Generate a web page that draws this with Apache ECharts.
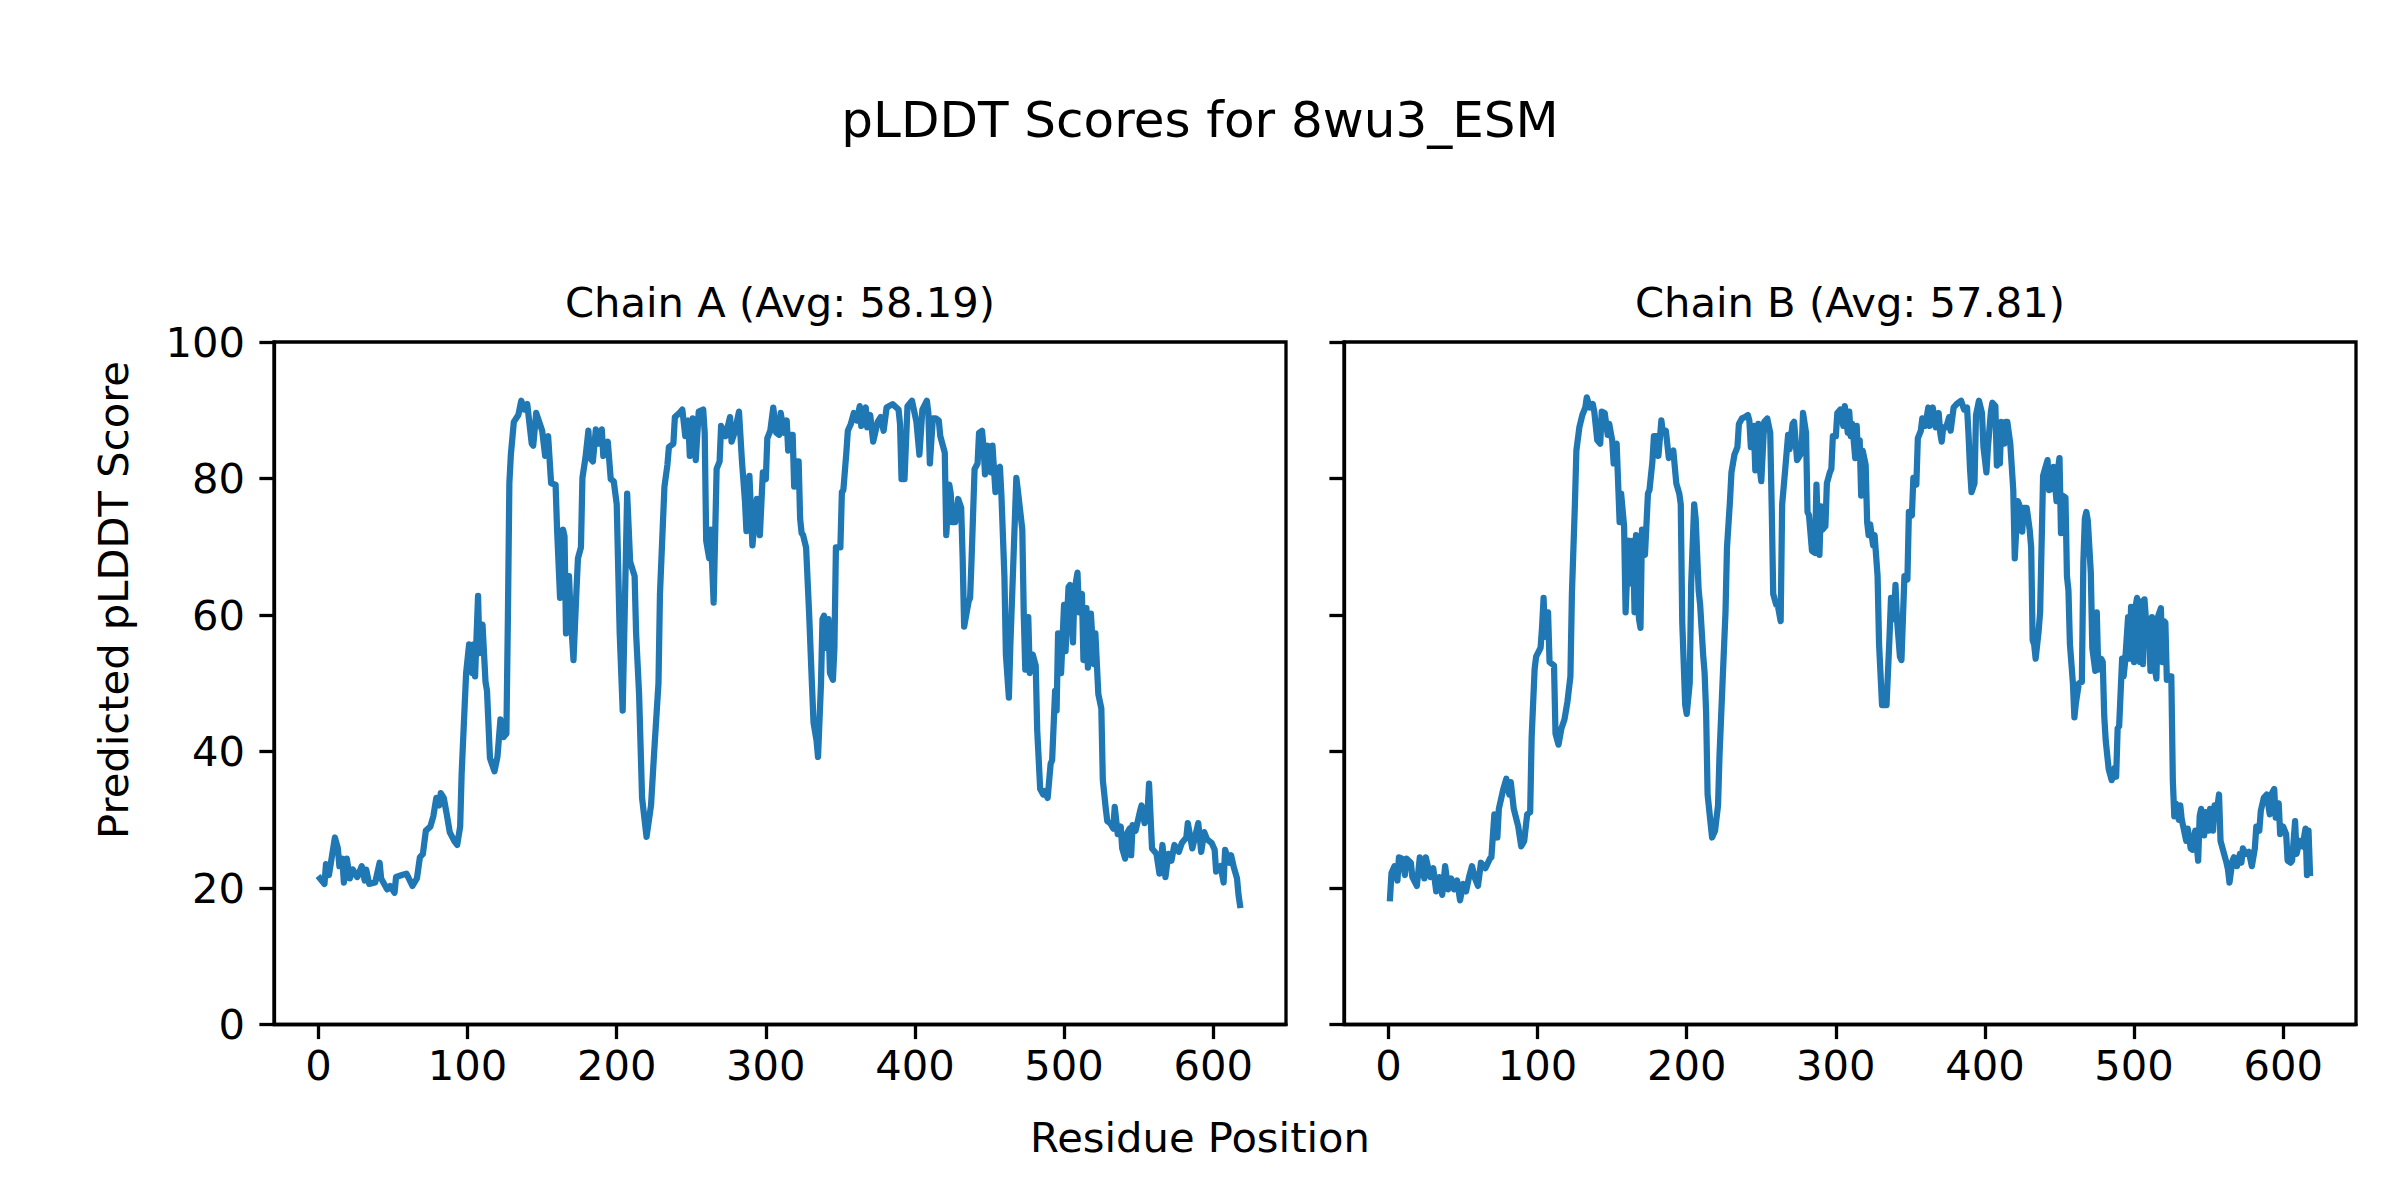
<!DOCTYPE html>
<html>
<head>
<meta charset="utf-8">
<script src="https://cdn.jsdelivr.net/npm/echarts@6/dist/echarts.min.js"></script>
<style>
html,body{margin:0;padding:0;background:#fff;}
#chart{width:2400px;height:1200px;}
</style>
</head>
<body>
<div id="chart"></div>
<script>
// ---------------- data ----------------
const figureTitle = "pLDDT Scores for 8wu3_ESM";
const chainTitles = ["Chain A (Avg: 58.19)", "Chain B (Avg: 57.81)"];
const xLabel = "Residue Position";
const yLabel = "Predicted pLDDT Score";
const xTicks = [0, 100, 200, 300, 400, 500, 600];
const yTicks = [0, 20, 40, 60, 80, 100];

const chainAResidues = [1,4,5,7,11,13,14,16,17,19,21,23,26,29,31,32,34,38,41,42,46,48,51,52,56,59,63,66,68,70,72,75,77,79,81,82,84,86,88,91,93,95,96,99,101,103,104,105,107,108,110,112,113,115,118,120,122,124,126,127,128,129,131,134,136,138,140,143,144,146,150,152,154,156,159,160,162,164,165,166,168,169,171,173,174,176,177,179,181,182,184,186,188,190,191,194,196,198,200,202,204,207,209,212,213,215,217,220,223,225,228,229,231,232,234,235,238,239,242,244,246,248,249,251,253,255,258,259,260,262,263,265,267,269,270,273,276,277,279,282,284,286,287,289,291,294,296,298,300,301,303,305,307,309,310,312,314,315,316,318,319,320,322,323,324,325,327,329,331,332,334,335,337,338,339,340,342,343,345,346,347,350,351,352,354,355,357,359,361,363,364,367,368,370,372,375,377,379,381,385,389,390,391,393,395,398,401,403,405,408,409,410,412,414,416,417,420,421,423,424,425,427,429,431,432,433,436,437,438,440,442,443,445,446,447,449,451,452,454,455,457,458,460,461,463,464,466,468,469,472,473,474,476,477,479,481,482,484,486,487,489,491,492,494,495,496,498,500,501,503,504,506,507,509,510,512,513,515,516,518,520,521,523,525,526,528,529,531,533,534,536,538,539,541,542,544,545,546,548,551,552,554,556,557,559,562,564,566,568,570,572,574,577,579,582,583,586,590,592,594,596,599,601,602,605,607,608,611,612,614,616,617,618];
const chainAScores = [21.4,20.6,23.5,21.9,27.4,25.8,23.2,24.3,20.8,24.3,21.4,22.7,21.6,23.2,21.1,22.7,20.6,20.8,23.7,21.4,19.8,20.3,19.3,21.6,21.9,22.1,20.3,21.4,24.5,25.0,28.4,29.0,30.5,33.2,32.1,33.9,33.2,30.8,28.2,26.9,26.3,29.0,36.8,51.5,55.7,51.5,55.7,51.0,62.8,54.4,58.6,50.2,48.9,39.0,37.1,39.2,44.7,42.1,42.6,59.4,79.3,83.5,88.3,89.3,91.4,90.1,90.9,85.1,84.8,89.6,87.0,83.3,86.2,79.3,79.1,72.5,62.5,72.5,71.5,57.3,65.7,60.4,53.4,63.6,68.3,69.9,80.1,83.0,87.0,83.0,82.5,87.2,85.1,87.2,83.3,85.4,79.9,79.6,76.2,57.3,46.0,77.8,67.8,65.7,57.3,48.4,33.2,27.5,32.1,39.5,50.0,63.1,73.6,78.8,82.0,84.6,85.1,89.0,89.6,90.1,86.2,88.5,83.3,88.8,82.7,89.8,90.1,86.7,70.9,68.3,72.5,61.8,81.4,82.5,87.7,86.2,89.0,85.4,86.7,89.8,82.5,76.7,72.3,80.4,70.2,77.0,71.7,80.9,79.9,85.9,87.0,90.4,86.7,86.4,89.6,86.7,88.5,84.1,86.4,86.4,78.8,82.5,82.5,74.1,72.0,71.7,69.9,60.4,49.4,44.2,41.6,39.2,50.0,59.4,59.9,55.2,59.4,51.5,50.5,55.2,69.9,69.9,78.0,78.3,83.8,87.0,88.0,89.6,88.5,90.6,87.7,90.4,87.5,89.3,85.4,88.3,89.0,87.0,90.4,90.9,90.1,88.0,79.9,79.9,90.6,91.4,88.3,83.5,90.1,91.4,89.6,82.2,88.8,88.8,88.5,86.2,83.8,71.7,79.1,77.8,73.6,73.6,77.0,75.7,68.3,58.3,62.0,62.5,68.3,81.4,82.2,86.7,87.0,84.6,80.6,84.8,80.9,84.8,78.0,81.4,81.7,77.5,65.7,54.2,47.9,55.7,67.8,80.1,78.3,72.5,59.9,52.0,59.7,51.5,54.2,52.6,43.1,34.5,33.7,34.2,33.2,38.2,38.7,48.9,46.0,57.3,51.5,61.5,54.7,64.1,64.4,56.0,63.6,66.2,60.4,63.1,53.4,61.0,52.3,60.2,52.8,57.3,48.4,46.3,35.8,31.6,29.8,29.5,28.7,31.9,27.9,29.0,25.8,24.3,27.9,28.7,24.8,29.2,28.4,31.3,32.1,29.5,31.1,35.3,25.8,25.0,22.1,26.3,21.6,25.0,24.0,26.3,25.3,26.6,27.4,29.5,25.8,29.5,25.3,28.2,27.1,26.6,25.6,22.4,23.2,20.8,25.6,23.7,24.8,22.9,21.4,19.0,17.5];

const chainBResidues = [1,2,4,6,7,9,11,12,15,16,19,21,24,25,28,30,32,34,36,38,40,42,44,46,48,50,52,54,56,58,60,62,65,68,69,71,73,74,77,79,81,82,84,87,89,91,93,95,96,98,99,102,103,104,105,107,108,111,112,114,116,118,120,122,123,125,126,128,130,132,133,135,137,138,140,142,143,145,147,148,150,151,153,155,156,158,159,161,163,164,165,166,168,169,170,172,174,175,177,178,180,181,183,184,186,188,191,193,195,196,197,199,200,202,203,205,206,208,209,211,212,213,214,216,217,219,221,222,224,226,227,229,230,232,234,235,237,239,241,242,243,245,246,248,249,250,252,254,256,257,258,260,261,263,264,266,268,269,271,272,274,277,278,280,281,282,284,286,287,288,289,290,291,293,294,296,297,298,300,301,303,305,306,308,309,310,311,313,314,315,316,317,318,320,321,322,323,325,326,328,329,331,334,336,337,339,340,341,343,344,346,347,348,349,351,352,354,355,357,358,360,362,363,365,367,369,370,371,372,374,376,377,379,381,384,386,388,389,390,391,393,394,396,398,399,401,402,404,405,407,408,409,410,411,413,414,415,417,418,419,420,422,423,425,426,428,430,431,432,433,434,436,437,439,440,442,443,445,446,448,449,450,451,452,454,455,456,457,459,460,461,463,465,466,467,468,469,471,472,474,475,476,478,479,480,481,483,485,487,488,489,490,492,493,494,496,497,498,500,501,502,504,505,506,507,509,510,511,512,514,515,516,518,519,520,521,522,524,525,526,527,528,530,531,532,533,535,536,538,539,541,542,543,544,545,547,548,550,551,553,554,555,557,558,560,562,563,564,566,567,569,571,572,573,575,577,579,581,582,584,585,587,589,591,592,594,595,597,598,600,602,603,605,606,608,609,611,613,615,616,617,618];
const chainBScores = [18.5,22.2,23.2,21.1,24.5,24.3,21.9,24.3,23.7,21.6,20.3,24.5,21.4,24.5,21.6,22.9,19.5,21.6,19.0,23.2,19.8,21.4,19.8,21.1,18.2,20.6,19.5,21.6,23.2,21.4,20.3,23.7,22.9,24.3,24.5,30.8,27.4,31.6,34.5,36.0,33.7,35.5,31.6,29.0,26.1,26.9,30.8,31.1,42.1,52.1,53.9,55.2,58.3,62.5,56.8,60.4,53.1,52.6,42.6,41.0,43.4,44.7,47.3,51.0,63.1,76.2,84.1,87.5,89.3,90.4,91.9,90.4,90.9,89.8,85.6,85.1,89.8,89.6,86.4,88.0,85.6,82.2,85.1,73.6,77.8,73.0,60.4,70.9,64.6,70.9,60.4,71.7,59.4,58.1,72.5,68.8,77.8,78.3,82.5,86.2,86.2,83.3,88.5,86.7,87.0,83.0,84.1,79.3,77.8,76.2,58.9,46.8,45.5,50.0,64.6,76.2,74.1,63.6,61.5,54.2,51.5,45.8,33.7,29.5,27.4,28.4,32.1,39.5,50.0,60.4,69.9,76.7,80.9,83.5,84.6,88.0,88.8,89.0,89.3,88.5,84.6,87.7,81.2,88.0,81.4,79.6,88.3,88.8,86.7,75.7,63.1,61.5,61.5,59.1,76.2,81.2,86.4,84.3,88.0,88.3,82.7,83.8,89.6,86.7,75.1,74.6,69.4,69.1,79.1,72.5,68.8,75.9,72.5,73.0,79.3,80.9,81.4,86.2,86.2,89.6,90.1,87.7,90.6,86.7,89.8,86.2,88.0,83.0,87.7,83.0,85.6,77.5,84.1,82.0,73.6,71.7,73.3,70.2,71.7,65.7,55.7,46.8,46.8,56.8,62.5,59.4,64.4,59.4,53.9,53.4,65.7,65.4,65.2,75.1,74.6,80.1,79.1,85.9,87.0,88.8,87.7,90.4,87.7,90.4,87.5,89.6,86.7,85.4,87.5,87.5,89.0,87.0,90.4,90.9,91.4,90.1,90.4,86.4,81.4,78.0,79.3,89.3,91.4,89.6,84.6,80.9,84.6,89.8,91.1,90.6,81.9,87.0,82.2,88.3,85.1,88.3,88.3,85.1,81.7,78.3,68.3,76.7,76.2,72.2,75.7,75.7,72.5,69.9,56.3,55.7,53.6,57.6,60.4,80.4,81.2,82.7,78.3,78.5,81.7,76.7,81.4,83.0,72.0,77.5,77.2,65.7,63.6,55.7,50.0,45.0,47.1,50.0,50.2,67.8,74.1,75.1,73.8,66.2,55.2,51.8,60.4,52.0,53.6,53.1,45.2,41.6,37.4,35.8,37.6,36.3,43.4,43.7,53.6,51.0,53.1,59.7,53.6,61.2,53.1,61.2,62.5,53.1,62.0,52.8,62.3,56.3,58.1,51.8,59.7,52.1,50.7,59.7,61.0,53.1,59.1,58.9,50.5,51.0,51.0,35.8,30.5,32.4,30.0,32.1,30.0,29.0,26.9,28.7,25.8,25.6,28.4,26.3,24.0,30.5,31.6,27.7,31.1,28.4,31.6,28.4,32.1,30.5,33.7,26.9,25.3,23.7,22.7,20.8,24.0,24.5,23.2,25.0,23.7,25.8,25.0,25.3,23.2,25.8,29.0,28.4,31.3,33.2,33.7,30.8,33.7,34.5,30.3,32.4,27.9,29.0,27.9,24.0,23.7,24.0,29.8,25.0,26.9,26.1,28.7,21.9,28.4,22.2];

// ---------------- chart ----------------
const FONT = "'DejaVu Sans', sans-serif";
const TICK_FS = 41.67;
const LW = 3.3;
const plotTop = 342, plotH = 682.5, plotW = 1012;
const plotLefts = [274, 1344];
const xMin = -29.85, xMax = 648.85;

function toPairs(xs, ys) { return xs.map((x, i) => [x, ys[i]]); }

const chart = echarts.init(document.getElementById('chart'), null, { renderer: 'svg' });

const grids = plotLefts.map(l => ({
  left: l, top: plotTop, width: plotW, height: plotH,
  show: true, borderColor: '#000', borderWidth: LW, backgroundColor: 'transparent',
  containLabel: false
}));

const xAxes = [0, 1].map(i => ({
  type: 'value', gridIndex: i, min: xMin, max: xMax,
  axisLine: { show: true, onZero: false, lineStyle: { color: '#000', width: LW } },
  axisTick: { show: true, inside: false, length: 14.6, customValues: xTicks, lineStyle: { color: '#000', width: LW } },
  axisLabel: { show: true, customValues: xTicks, margin: 20, color: '#000', fontSize: TICK_FS, fontFamily: FONT },
  splitLine: { show: false }
}));

const yAxes = [0, 1].map(i => ({
  type: 'value', gridIndex: i, min: 0, max: 100, interval: 20,
  axisLine: { show: true, onZero: false, lineStyle: { color: '#000', width: LW } },
  axisTick: { show: true, inside: false, length: 14.6, lineStyle: { color: '#000', width: LW } },
  axisLabel: { show: i === 0, margin: 29, color: '#000', fontSize: TICK_FS, fontFamily: FONT },
  splitLine: { show: false }
}));

const lineStyle = { color: '#1f77b4', width: 6.25, join: 'round', cap: 'square' };

const series = [
  { name: 'Chain A', type: 'line', xAxisIndex: 0, yAxisIndex: 0, data: toPairs(chainAResidues, chainAScores),
    showSymbol: false, symbol: 'none', lineStyle: lineStyle, itemStyle: { color: '#1f77b4' }, clip: true },
  { name: 'Chain B', type: 'line', xAxisIndex: 1, yAxisIndex: 1, data: toPairs(chainBResidues, chainBScores),
    showSymbol: false, symbol: 'none', lineStyle: lineStyle, itemStyle: { color: '#1f77b4' }, clip: true }
];

function txt(text, x, y, size, rot) {
  return {
    type: 'text', x: x, y: y, rotation: rot || 0, silent: true,
    style: { text: text, fill: '#000', font: size + 'px ' + FONT, fontSize: size, fontFamily: FONT,
      align: 'center', verticalAlign: 'middle', textAlign: 'center', textVerticalAlign: 'middle' }
  };
}

const graphics = [
  txt(figureTitle, 1200, 120, 50),
  txt(chainTitles[0], plotLefts[0] + plotW / 2, 302, 41.67),
  txt(chainTitles[1], plotLefts[1] + plotW / 2, 302, 41.67),
  txt(xLabel, 1200, 1137, 41.67),
  txt(yLabel, 113, 600, 41.67, Math.PI / 2)
];

chart.setOption({
  animation: false,
  backgroundColor: '#fff',
  grid: grids,
  xAxis: xAxes,
  yAxis: yAxes,
  series: series,
  graphic: graphics
});
</script>
</body>
</html>
